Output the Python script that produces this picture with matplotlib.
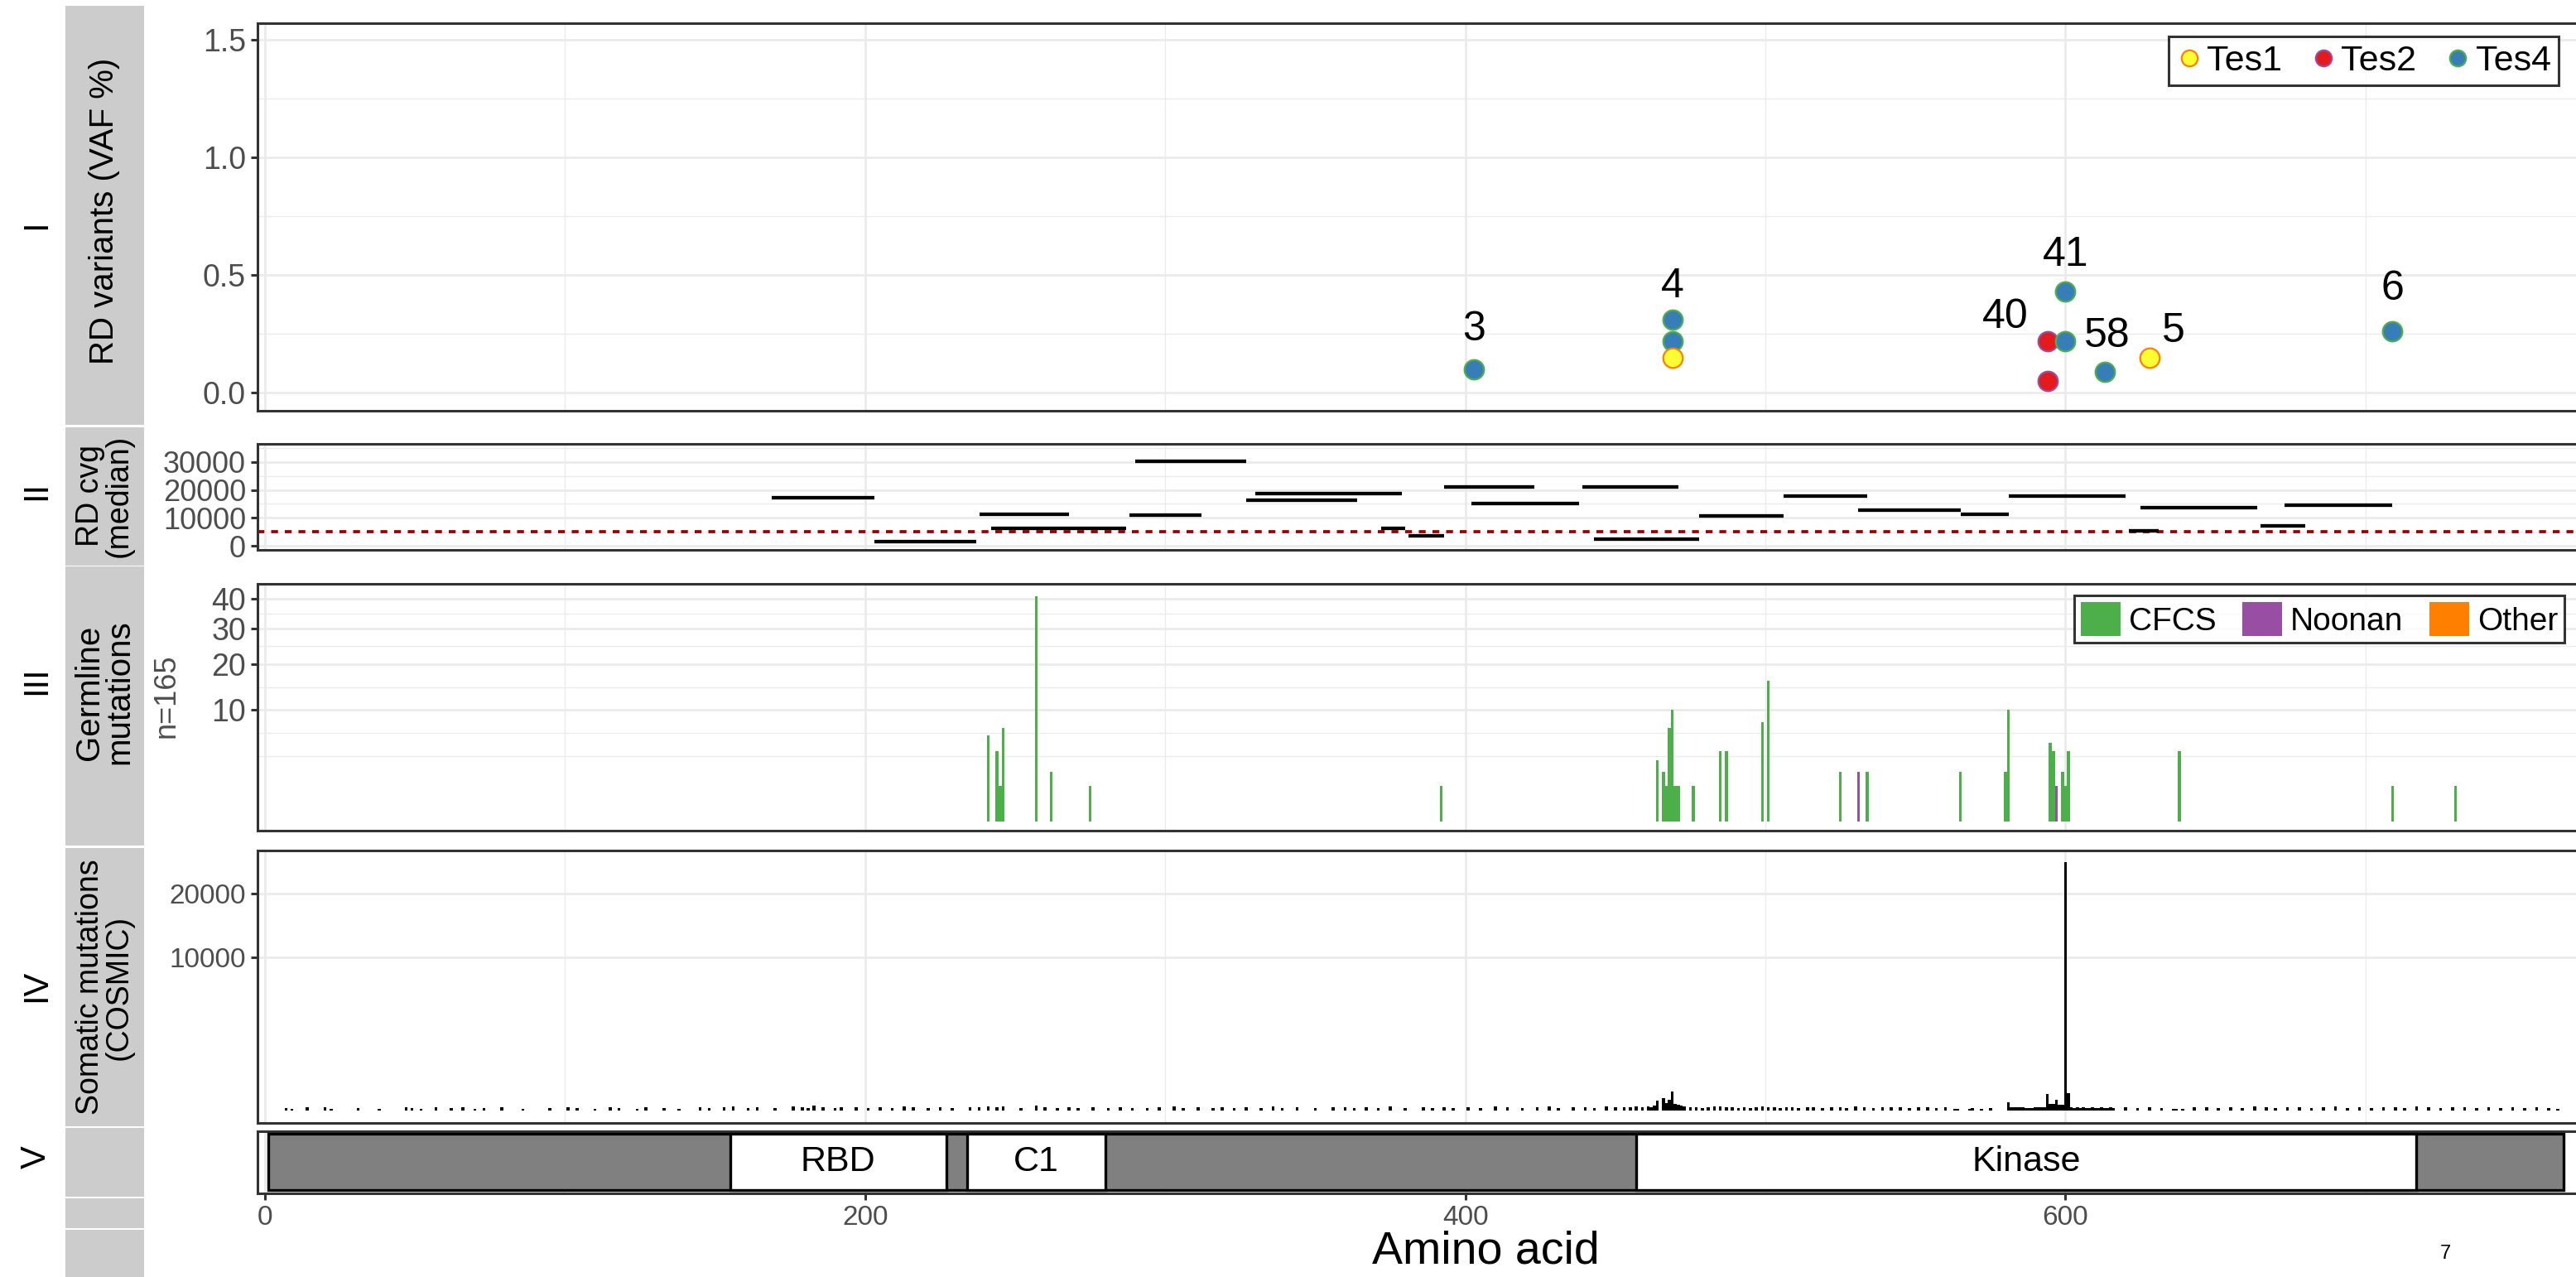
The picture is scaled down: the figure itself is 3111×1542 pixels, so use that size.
import numpy as np
import matplotlib.pyplot as plt
from matplotlib.patches import Rectangle
from matplotlib.lines import Line2D

plt.rcParams['font.family'] = ['Liberation Sans', 'DejaVu Sans']

# ---- I: RD variants (VAF %) ----
var_pos = [403, 469, 469, 469, 594, 594, 600, 600, 613, 628, 709]
var_vaf = [0.10, 0.31, 0.22, 0.15, 0.22, 0.05, 0.43, 0.22, 0.09, 0.15, 0.26]
var_sample = ['Tes4', 'Tes4', 'Tes4', 'Tes1', 'Tes2', 'Tes2', 'Tes4', 'Tes4', 'Tes4', 'Tes1', 'Tes4']
lab_text = ['3', '4', '40', '41', '58', '5', '6']
lab_pos = [403, 469, 580, 600, 614, 636, 709]
lab_y = [0.27, 0.45, 0.32, 0.585, 0.24, 0.26, 0.44]
samples = ['Tes1', 'Tes2', 'Tes4']
sample_fill = {'Tes1': '#FFFF33', 'Tes2': '#E41A1C', 'Tes4': '#377EB8'}
sample_edge = {'Tes1': '#FF7F00', 'Tes2': '#984EA3', 'Tes4': '#4DAF4A'}

# ---- II: RD coverage (median) per amplicon ----
amp_start = [169, 203, 238, 242, 290, 288, 330, 327, 372, 381, 393, 402, 439, 443,
             478, 506, 531, 565, 581, 621, 625, 665, 673]
amp_end = [203, 237, 268, 287, 327, 312, 379, 364, 380, 393, 423, 438, 471, 478,
           506, 534, 565, 581, 620, 631, 664, 680, 709]
amp_cvg = [17150, 1470, 11350, 6260, 30290, 11060, 18820, 16260, 6350, 3530, 20970,
           15180, 21180, 2350, 10590, 17940, 12740, 11260, 17650, 5480, 13710, 7240, 14590]
cvg_cutoff = 5000

# ---- III: germline mutations ----
germ_pos = [241, 244, 245, 246, 257, 262, 275, 392, 464, 466, 467, 468, 469, 470, 471,
            476, 485, 487, 499, 501, 525, 531, 534, 565, 580, 581, 595, 596, 597, 599,
            600, 601, 638, 709, 730]
germ_n = [6, 4, 1, 7, 41, 2, 1, 1, 3, 2, 1, 7, 10, 1, 1,
          1, 4, 4, 8, 16, 2, 2, 2, 2, 2, 10, 5, 4, 1, 2,
          1, 4, 4, 1, 1]
germ_type = ['CFCS'] * 21 + ['Noonan'] + ['CFCS'] * 6 + ['Noonan'] + ['CFCS'] * 6
germ_colors = {'CFCS': '#4DAF4A', 'Noonan': '#984EA3', 'Other': '#FF7F00'}

# ---- IV: somatic mutations (COSMIC) ----
som_pos = [7, 9, 14, 20, 22, 31, 38, 47, 49, 52, 57, 62, 66, 70, 73, 79, 86, 95,
           101, 104, 110, 115, 118, 124, 127, 133, 138, 145, 148,
           153, 156, 161, 164, 170, 176, 179, 181, 183, 186, 190, 192, 197, 201, 205,
           209, 213, 216, 221, 225, 229, 235, 238, 241, 244, 246, 252, 257, 260, 264,
           268, 271, 276, 281, 285, 289,
           294, 298, 303, 306, 311, 316, 319, 323, 327, 332, 336, 339, 344, 350, 356,
           360, 363, 367, 371, 375, 380, 386, 389, 393, 396, 401, 405, 410, 414, 419,
           424, 428, 431, 436, 440, 443, 447, 450,
           453, 455, 457, 459, 461, 462, 463, 464, 466, 467, 468, 469, 470, 471, 472,
           473, 475, 477, 479, 481, 483, 485, 487, 489, 491, 493, 495, 497, 499, 501,
           503, 505, 507, 509, 511, 514, 516, 519, 522, 525, 527, 530, 533, 536, 539,
           542, 545, 548, 551, 554, 557, 560,
           563, 564, 568, 569, 572, 575, 581, 582, 583, 584, 585, 586, 587, 588, 589,
           590, 591, 592, 593, 594, 595, 596, 597, 598, 599, 600, 601, 602, 603, 604,
           605, 606, 607, 608, 609, 610, 611, 612, 613, 614, 615, 616,
           620, 624, 628, 632, 636, 637, 639, 643, 647, 651, 655, 659, 663, 667, 670,
           674, 678, 682, 686, 690, 694, 698, 702, 706, 710, 713, 717, 721, 725, 729,
           733, 737, 741, 745, 749, 753, 757, 761, 764]
som_n = [3, 2, 4, 6, 2, 3, 2, 5, 3, 2, 4, 3, 6, 2, 3, 4, 2, 3,
         5, 3, 2, 4, 3, 2, 6, 3, 2, 4, 3,
         4, 7, 3, 5, 3, 8, 4, 3, 10, 4, 3, 5, 6, 3, 4,
         3, 7, 4, 3, 5, 3, 6, 4, 9, 4, 7, 3, 12, 4, 3,
         6, 3, 4, 3, 6, 3,
         3, 4, 7, 3, 4, 3, 6, 3, 4, 3, 8, 3, 4, 3, 4,
         6, 3, 4, 3, 7, 3, 4, 3, 6, 3, 4, 3, 8, 4, 3,
         4, 7, 3, 4, 6, 3, 7, 4,
         6, 4, 9, 5, 8, 6, 12, 40, 70, 25, 50, 160, 20, 14, 10,
         8, 6, 5, 3, 6, 9, 7, 4, 6, 3, 5, 3, 4, 7, 6,
         4, 3, 6, 4, 3, 6, 4, 3, 6, 4, 3, 7, 4, 3, 4,
         6, 4, 3, 4, 6, 3, 4,
         2, 2, 2, 3, 2, 3, 30, 5, 5, 4, 4, 4, 3, 3, 3,
         4, 4, 5, 6, 119, 18, 18, 53, 14, 14, 26300, 131, 4, 3, 4,
         3, 4, 3, 3, 4, 3, 3, 4, 3, 3, 4, 3,
         4, 3, 5, 3, 2, 2, 2, 4, 6, 3, 4, 3, 7, 4, 3,
         6, 4, 3, 5, 7, 3, 4, 3, 6, 4, 3, 7, 4, 3, 4,
         6, 3, 4, 3, 5, 3, 4, 3, 2]

# ---- V: protein domains ----
prot_len = 766
dom_name = ['RBD', 'C1', 'Kinase']
dom_start = [155, 234, 457]
dom_end = [227, 280, 717]

W, H = 3111, 1542
fig = plt.figure(figsize=(W / 100, H / 100), dpi=100)


def px_box(l, t, r, b):
    return [l / W, 1 - b / H, (r - l) / W, (b - t) / H]


def ssqrt(v):
    return np.sign(v) * np.sqrt(np.abs(v))


def ssq(v):
    return np.sign(v) * v ** 2


PL, PR = 311, 3114
xlim = ((PL - 320) / 3.624, (PR - 320) / 3.624)
tick_col = '#4D4D4D'
grid_col = '#EBEBEB'


def base_axis(ax, show_x=False, tsize=26):
    ax.set_xlim(xlim)
    for s in ax.spines.values():
        s.set_color('#333333')
        s.set_linewidth(2.2)
    ax.set_xticks([0, 200, 400, 600])
    ax.set_xticks([100, 300, 500, 700], minor=True)
    ax.grid(True, which='major', color=grid_col, lw=2.0)
    ax.grid(True, which='minor', color=grid_col, lw=1.0)
    ax.set_axisbelow(True)
    ax.tick_params(axis='both', which='major', color='#333333', width=2.2, length=6,
                   labelcolor=tick_col, labelsize=tsize, pad=4)
    ax.tick_params(axis='both', which='minor', length=0)
    if not show_x:
        ax.tick_params(axis='x', which='both', length=0, labelbottom=False)


# strips on the left
strip_rows = [(6.7, 512.7), (515.7, 682.7), (684.3, 1020.7), (1024, 1360),
              (1362.3, 1445), (1446.7, 1483.3), (1485.3, 1545)]
for t, b in strip_rows:
    fig.patches.append(Rectangle((79 / W, 1 - b / H), (174 - 79) / W, (b - t) / H,
                                 transform=fig.transFigure, facecolor='#CCCCCC',
                                 edgecolor='none'))

strip_text = [('RD variants (VAF %)', 255, 29), ('RD cvg\n(median)', 599, 27),
              ('Germline\nmutations', 836, 29), ('Somatic mutations\n(COSMIC)', 1192, 27)]
for txt, yc, fs in strip_text:
    fig.text(126 / W, 1 - yc / H, txt, rotation=90, ha='center', va='center',
             fontsize=fs, linespacing=0.95, color='black')
fig.text(201 / W, 1 - 840 / H, 'n=165', rotation=90, ha='center', va='center',
         fontsize=26, color=tick_col)

for txt, yc in [('I', 271), ('II', 592), ('III', 822), ('IV', 1190), ('V', 1397)]:
    fig.text(44 / W, 1 - yc / H, txt, rotation=90, ha='center', va='center',
             fontsize=30, color='black')

# ---- panel I ----
ax1 = fig.add_axes(px_box(PL, 27.7, PR, 496))
base_axis(ax1, tsize=27)
ax1.set_ylim(-0.076, 1.571)
ax1.set_yticks([0.0, 0.5, 1.0, 1.5])
ax1.set_yticklabels(['0.0', '0.5', '1.0', '1.5'])
ax1.set_yticks([0.25, 0.75, 1.25], minor=True)
for p, v, s in zip(var_pos, var_vaf, var_sample):
    ax1.plot(p, v, 'o', ms=17, mfc=sample_fill[s], mec=sample_edge[s], mew=1.6, zorder=3)
for t, p, y in zip(lab_text, lab_pos, lab_y):
    ax1.text(p, y, t, ha='center', va='center', fontsize=36, color='black')
handles = [Line2D([], [], ls='none', marker='o', ms=14, mfc=sample_fill[s],
                  mec=sample_edge[s], mew=1.6) for s in samples]
leg1 = ax1.legend(handles, samples, loc='upper right', ncol=3,
                  bbox_to_anchor=(3090 / W, 1 - 44.3 / H), bbox_transform=fig.transFigure,
                  fontsize=31, frameon=True, fancybox=False, borderpad=0.22,
                  handlelength=0.7, handletextpad=0.15, columnspacing=0.8, borderaxespad=0)
leg1.get_frame().set_edgecolor('black')
leg1.get_frame().set_linewidth(2.2)

# ---- panel II ----
ax2 = fig.add_axes(px_box(PL, 535.7, PR, 664.3))
base_axis(ax2, tsize=26)
ax2.set_ylim(-1470, 36470)
ax2.set_yticks([0, 10000, 20000, 30000])
ax2.set_yticks([5000, 15000, 25000, 35000], minor=True)
ax2.hlines(amp_cvg, amp_start, amp_end, color='black', lw=3.1, zorder=3)
ax2.axhline(cvg_cutoff, color='#9B0000', lw=2.7, dashes=(2.2, 2.2), zorder=2)

# ---- panel III ----
ax3 = fig.add_axes(px_box(PL, 705, PR, 1003.3))
base_axis(ax3, tsize=27)
ax3.set_yscale('function', functions=(ssqrt, ssq))
ax3.set_ylim(-0.07, 45.5)
ax3.set_yticks([10, 20, 30, 40])
ax3.set_yticklabels(['10', '20', '30', '40'])
ax3.set_yticks([3.43, 6.28, 14.57, 24.75, 34.82], minor=True)
ax3.yaxis.set_minor_formatter(plt.NullFormatter())
for p, n, g in zip(germ_pos, germ_n, germ_type):
    ax3.bar(p, n, width=1.0, color=germ_colors[g], linewidth=0, zorder=3)
gh = [Rectangle((0, 0), 1, 1, facecolor=germ_colors[k], edgecolor='none')
      for k in ['CFCS', 'Noonan', 'Other']]
leg3 = ax3.legend(gh, ['CFCS', 'Noonan', 'Other'], loc='upper right', ncol=3,
                  bbox_to_anchor=(3097 / W, 1 - 719.3 / H), bbox_transform=fig.transFigure,
                  fontsize=28, frameon=True, fancybox=False, borderpad=0.2,
                  handlelength=1.25, handleheight=1.25, handletextpad=0.25,
                  columnspacing=0.8, borderaxespad=0)
leg3.get_frame().set_edgecolor('black')
leg3.get_frame().set_linewidth(2.2)

# ---- panel IV ----
ax4 = fig.add_axes(px_box(PL, 1026.7, PR, 1356))
base_axis(ax4, tsize=24)
ax4.set_yscale('function', functions=(ssqrt, ssq))
ax4.set_ylim(-64, 28830)
ax4.set_yticks([10000, 20000])
ax4.set_yticklabels(['10000', '20000'])
ax4.yaxis.set_minor_locator(plt.NullLocator())
ax4.bar(som_pos, som_n, width=1.0, color='black', linewidth=0, zorder=3)

# ---- panel V ----
ax5 = fig.add_axes(px_box(PL, 1366, PR, 1440.7))
base_axis(ax5, show_x=True, tsize=24)
ax5.set_ylim(-0.05, 1.05)
ax5.set_yticks([])
ax5.barh(0.5, prot_len - 1, left=1, height=1, color='#808080', edgecolor='black', lw=2.4, zorder=3)
for name, s, e in zip(dom_name, dom_start, dom_end):
    ax5.barh(0.5, e - s, left=s, height=1, color='white', edgecolor='black', lw=2.4, zorder=4)
    ax5.text((s + e) / 2, 0.5, name, ha='center', va='center', fontsize=31, zorder=5)
ax5.set_xticklabels(['0', '200', '400', '600'])
fig.text(1794 / W, 1 - 1512 / H, 'Amino acid', ha='center', va='center', fontsize=40)
fig.text(2953 / W, 1 - 1514 / H, '7', ha='center', va='center', fontsize=17)

fig.savefig('out.png', dpi=100)
